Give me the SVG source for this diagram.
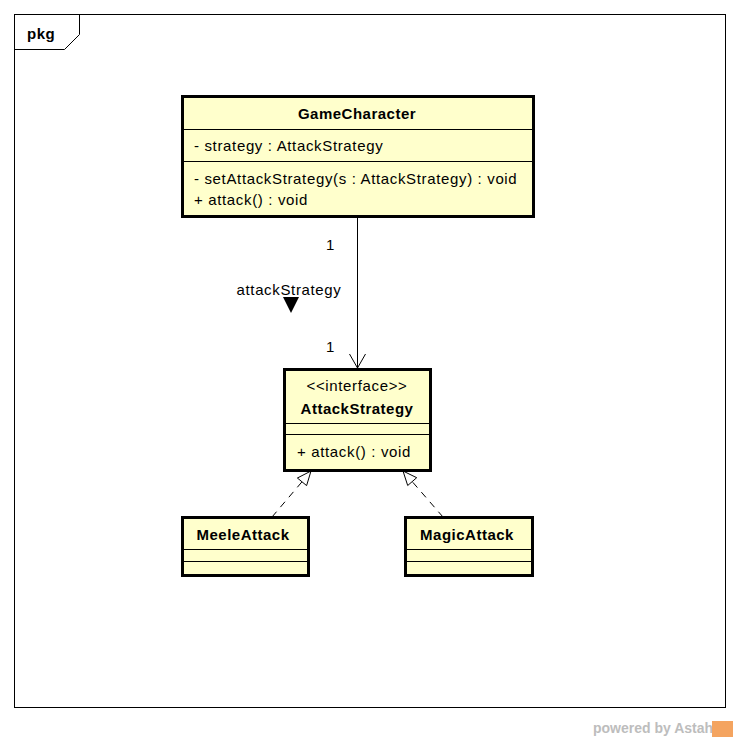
<svg xmlns="http://www.w3.org/2000/svg" width="738" height="741" viewBox="0 0 738 741">
<defs>
<style>
.cls{fill:#ffffcc;stroke:#000;stroke-width:3}
.sep{stroke:#000;stroke-width:1}
text{font-family:"Liberation Sans",Arial,sans-serif;font-size:15px;fill:#000}
.t{letter-spacing:0.65px}
.b{font-weight:bold;letter-spacing:0.5px}
.m{text-anchor:middle}
.conn{stroke:#000;stroke-width:1;fill:none}
.dash{stroke-dasharray:7,6}
</style>
</defs>
<rect x="0" y="0" width="738" height="741" fill="#fff"/>
<g id="frame">
<rect x="14.5" y="14.5" width="711" height="693" fill="none" stroke="#000" stroke-width="1"/>
<polyline points="14.5,49.5 64.5,49.5 79.5,34.5 79.5,14.5" fill="none" stroke="#000" stroke-width="1"/>
<text x="27" y="39" class="b">pkg</text>
</g>
<g id="GameCharacter">
<rect class="cls" x="182.5" y="96.5" width="351" height="120"/>
<line class="sep" x1="182" y1="129.5" x2="534" y2="129.5"/>
<line class="sep" x1="182" y1="161.5" x2="534" y2="161.5"/>
<text x="357" y="119" class="b m">GameCharacter</text>
<text x="194" y="151" class="t">- strategy : AttackStrategy</text>
<text x="194" y="184" class="t">- setAttackStrategy(s : AttackStrategy) : void</text>
<text x="194" y="205" class="t">+ attack() : void</text>
</g>
<g id="AttackStrategy">
<rect class="cls" x="284.5" y="369.5" width="146" height="101"/>
<line class="sep" x1="284" y1="423.5" x2="431" y2="423.5"/>
<line class="sep" x1="284" y1="434.5" x2="431" y2="434.5"/>
<text x="357" y="391" class="t m">&lt;&lt;interface&gt;&gt;</text>
<text x="357" y="414" class="b m">AttackStrategy</text>
<text x="297" y="457" class="t">+ attack() : void</text>
</g>
<g id="MeeleAttack">
<rect class="cls" x="182.5" y="517.5" width="126" height="58"/>
<line class="sep" x1="182" y1="549.5" x2="309" y2="549.5"/>
<line class="sep" x1="182" y1="561.5" x2="309" y2="561.5"/>
<text x="243" y="540" class="b m">MeeleAttack</text>
</g>
<g id="MagicAttack">
<rect class="cls" x="405.5" y="517.5" width="127" height="58"/>
<line class="sep" x1="405" y1="549.5" x2="533" y2="549.5"/>
<line class="sep" x1="405" y1="561.5" x2="533" y2="561.5"/>
<text x="467" y="540" class="b m">MagicAttack</text>
</g>
<g id="connectors">
<line class="conn" x1="357.5" y1="218" x2="357.5" y2="368"/>
<polyline class="conn" points="349.5,354 357.5,368 365.5,354"/>
<text x="326" y="250">1</text>
<text x="326" y="352">1</text>
<text x="289" y="295" class="t m">attackStrategy</text>
<polygon points="283,297 299,297 291,313" fill="#000"/>
<line class="conn dash" x1="272" y1="517" x2="302" y2="481.8"/>
<polygon class="conn" points="311,471 306.6,485.6 297.4,478" fill="#fff"/>
<line class="conn dash" x1="443" y1="517" x2="412.2" y2="481.6"/>
<polygon class="conn" points="403,471 416.7,477.7 407.7,485.5" fill="#fff"/>
</g>
<g id="footer">
<text x="593" y="733" style="font-size:14px;font-weight:bold;fill:#bdbdbd">powered by Astah</text>
<rect x="712" y="721" width="21" height="16" fill="#f4a460"/>
</g>
</svg>
